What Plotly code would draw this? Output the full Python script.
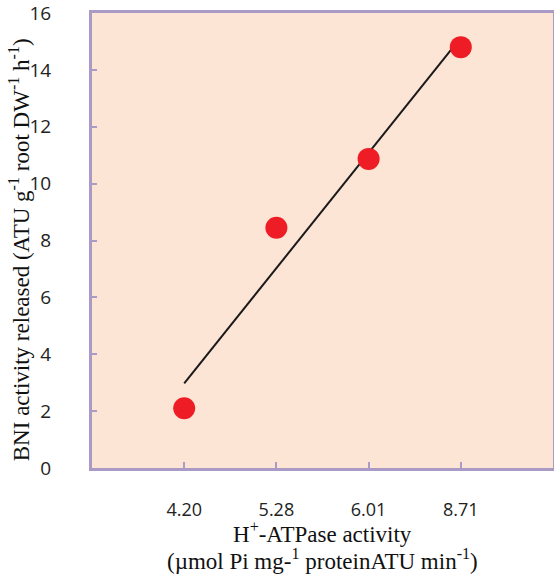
import numpy as np
import plotly.graph_objects as go

categories = ["4.20", "5.28", "6.01", "8.71"]
bni_values = [2.1, 8.45, 10.87, 14.8]
y_ticks = [0, 2, 4, 6, 8, 10, 12, 14, 16]

idx = np.arange(len(categories))
slope, intercept = np.polyfit(idx, bni_values, 1)
fit = slope * idx + intercept

purple = "#A99BC6"
fig = go.Figure()
fig.add_trace(go.Scatter(x=idx, y=fit, mode="lines",
                         line=dict(color="#1a1a1a", width=2), showlegend=False))
fig.add_trace(go.Scatter(x=idx, y=bni_values, mode="markers",
                         marker=dict(color="#EE1C25", size=22), showlegend=False))

serif = dict(family="Liberation Serif", size=23, color="#111")
fig.add_annotation(text="BNI activity released (ATU g<sup>-1</sup> root DW<sup>-1</sup> h<sup>-1</sup>)",
                   xref="paper", yref="paper", x=-0.158, y=0.479, textangle=-90,
                   showarrow=False, font=serif, xanchor="center", yanchor="middle")
fig.add_annotation(text="H<sup>+</sup>-ATPase activity",
                   xref="paper", yref="paper", x=0.5, y=-0.141,
                   showarrow=False, font=serif, xanchor="center", yanchor="middle")
fig.add_annotation(text="(µmol Pi mg-<sup>1</sup> proteinATU min<sup>-1</sup>)",
                   xref="paper", yref="paper", x=0.5, y=-0.202,
                   showarrow=False, font=serif, xanchor="center", yanchor="middle")

fig.update_layout(
    width=554, height=577,
    margin=dict(l=92, r=1, t=13, b=109),
    paper_bgcolor="white", plot_bgcolor="#FDE5D6",
    xaxis=dict(range=[-1, 4], tickvals=list(idx), ticktext=categories,
               showgrid=False, zeroline=False, showline=True, mirror=True,
               linecolor=purple, linewidth=3, ticks="inside", tickcolor=purple,
               ticklen=6, tickwidth=2, ticklabelstandoff=23, automargin=False,
               ticklabeloverflow="allow",
               tickfont=dict(family="Open Sans", size=18, color="#222")),
    yaxis=dict(range=[0, 16], tickvals=y_ticks,
               showgrid=False, zeroline=False, showline=True, mirror=True,
               linecolor=purple, linewidth=3, ticks="inside", tickcolor=purple,
               ticklen=5, tickwidth=2, ticklabelstandoff=34, automargin=False,
               ticklabeloverflow="allow",
               tickfont=dict(family="Open Sans", size=19, color="#222")),
)
fig.write_html("out.html", config={"displayModeBar": False},
               post_script="document.body.style.margin='0';")
